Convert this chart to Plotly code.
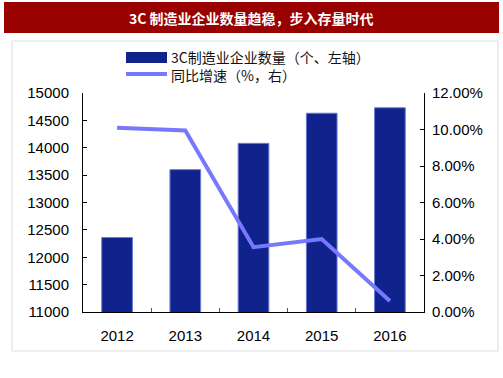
import plotly.graph_objects as go

years = ["2012", "2013", "2014", "2015", "2016"]
companies = [12360, 13600, 14080, 14630, 14730]
growth = [10.1, 9.95, 3.55, 4.0, 0.6]
bar_name = "3C制造业企业数量（个、左轴）"
line_name = "同比增速（%，右）"
title_text = "3C 制造业企业数量趋稳，步入存量时代"
left_ticks = [11000, 11500, 12000, 12500, 13000, 13500, 14000, 14500, 15000]
right_ticks = [0, 2, 4, 6, 8, 10, 12]

W, H = 503, 378
L, R, T, B = 83, 424, 93, 312

def px(x):
    return (x - L) / (R - L)

def py(y):
    return (B - y) / (B - T)

fig = go.Figure()
fig.add_trace(go.Bar(
    x=years, y=companies, name=bar_name, yaxis="y",
    marker=dict(color="#10238c", line=dict(color="#6a7ad6", width=1)),
    width=0.45, showlegend=False,
))
fig.add_trace(go.Scatter(
    x=years, y=growth, name=line_name, yaxis="y2", mode="lines",
    line=dict(color="#7878ff", width=4), showlegend=False,
))

font_lbl = dict(family="Liberation Sans, Arial, sans-serif", size=15, color="#000000")

fig.update_layout(
    width=W, height=H,
    margin=dict(l=L, r=W - R, t=T, b=H - B, autoexpand=False),
    paper_bgcolor="white", plot_bgcolor="white",
    xaxis=dict(
        showline=True, linecolor="#000000", linewidth=1,
        ticks="inside", ticklen=4, tickcolor="#555555", tickson="boundaries",
        tickfont=font_lbl, ticklabelstandoff=10, showgrid=False, automargin=False,
    ),
    yaxis=dict(
        range=[11000, 15000], tickvals=left_ticks,
        ticktext=[str(v) for v in left_ticks],
        showline=True, linecolor="#000000", linewidth=1,
        ticks="inside", ticklen=4, tickcolor="#000000",
        tickfont=font_lbl, ticklabelstandoff=10, showgrid=False, zeroline=False,
        automargin=False,
    ),
    yaxis2=dict(
        range=[0, 12], tickvals=right_ticks,
        ticktext=[f"{v:.2f}%" for v in right_ticks],
        overlaying="y", side="right",
        showline=True, linecolor="#000000", linewidth=1,
        ticks="inside", ticklen=4, tickcolor="#000000",
        tickfont=font_lbl, ticklabelstandoff=4, showgrid=False, zeroline=False,
        automargin=False,
    ),
    shapes=[
        dict(type="rect", xref="paper", yref="paper",
             x0=px(4), x1=px(499), y0=py(33), y1=py(2),
             fillcolor="#990000", line=dict(width=0), layer="below"),
        dict(type="rect", xref="paper", yref="paper",
             x0=px(12), x1=px(498), y0=py(351), y1=py(41),
             fillcolor="rgba(0,0,0,0)", line=dict(color="#dddddd", width=1), layer="below"),
        dict(type="rect", xref="paper", yref="paper",
             x0=px(126), x1=px(167), y0=py(63), y1=py(52),
             fillcolor="#10238c", line=dict(width=0)),
        dict(type="line", xref="paper", yref="paper",
             x0=px(126), x1=px(167), y0=py(74), y1=py(74),
             line=dict(color="#7878ff", width=4)),
    ],
    annotations=[
        dict(text=title_text, xref="paper", yref="paper", x=px(251), y=py(18),
             showarrow=False, xanchor="center", yanchor="middle",
             font=dict(family="Noto Sans CJK SC", size=14, color="white", weight="bold")),
        dict(text=bar_name + "<br>" + line_name, xref="paper", yref="paper",
             x=px(169), y=py(66), align="left",
             showarrow=False, xanchor="left", yanchor="middle",
             font=dict(family="Noto Sans CJK SC", size=14, color="#111111")),
    ],
)

fig.write_html("out.html", config={"displayModeBar": False},
               post_script="document.body.style.margin='0';")
